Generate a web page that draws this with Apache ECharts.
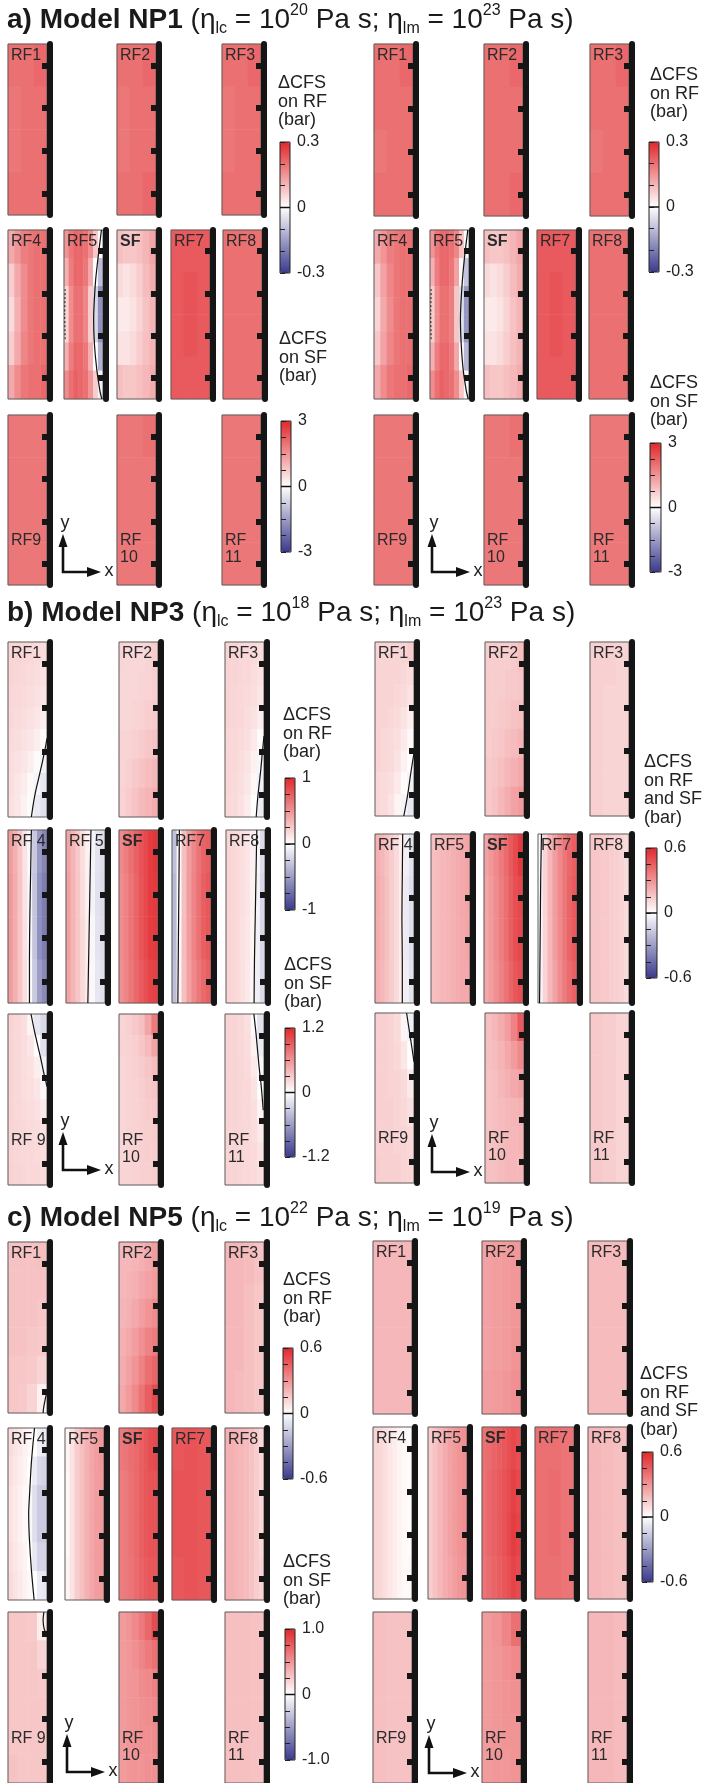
<!DOCTYPE html>
<html>
<head>
<meta charset="utf-8">
<script src="https://cdn.jsdelivr.net/npm/echarts@6/dist/echarts.min.js"></script>
<style>
  html, body { margin: 0; padding: 0; background: #ffffff; }
  #chart { width: 704px; height: 1783px; }
</style>
</head>
<body>
<div id="chart"></div>
<script>
// ---------------------------------------------------------------------------
// Coulomb failure stress change (ΔCFS) on the receiver faults (RF) and the
// source fault (SF) for three viscosity models, two time slices each.
// ---------------------------------------------------------------------------

// Strip order inside each model half: row 1, row 2, row 3
const PANELS = ['RF1', 'RF2', 'RF3', 'RF4', 'RF5', 'SF', 'RF7', 'RF8', 'RF9', 'RF10', 'RF11'];

// Along-strike coordinate of every strip (km from the top edge) and its ticks
const ALONG_MAX = 40;
const ALONG_TICKS = [5, 15, 25, 35];

// Model titles
const MODEL_TAGS = ['a)', 'b)', 'c)'];
const MODEL_NAMES = ['NP1', 'NP3', 'NP5'];
const ETA_LC_EXP = ['20', '18', '22'];
const ETA_LM_EXP = ['23', '23', '19'];

// Colour scales (bar): tick values and the three labelled values
const SCALE_NP1_RF = { max: 0.3, ticks: [-0.3, -0.2, -0.1, 0, 0.1, 0.2, 0.3], labels: ['0.3', '0', '-0.3'] };
const SCALE_NP1_SF = { max: 3, ticks: [-3, -2.25, -1.5, -0.75, 0, 0.75, 1.5, 2.25, 3], labels: ['3', '0', '-3'] };
const SCALE_NP3_RF = { max: 1, ticks: [-1, -0.75, -0.5, -0.25, 0, 0.25, 0.5, 0.75, 1], labels: ['1', '0', '-1'] };
const SCALE_NP3_SF = { max: 1.2, ticks: [-1.2, -0.9, -0.6, -0.3, 0, 0.3, 0.6, 0.9, 1.2], labels: ['1.2', '0', '-1.2'] };
const SCALE_06 = { max: 0.6, ticks: [-0.6, -0.45, -0.3, -0.15, 0, 0.15, 0.3, 0.45, 0.6], labels: ['0.6', '0', '-0.6'] };
const SCALE_NP5_SF = { max: 1, ticks: [-1, -0.75, -0.5, -0.25, 0, 0.25, 0.5, 0.75, 1], labels: ['1.0', '0', '-1.0'] };

// ΔCFS fields (bar). Each matrix: rows top -> bottom, columns west -> east.
const NP1_L = [
  [[0.2, 0.2, 0.21], [0.19, 0.2, 0.2], [0.19, 0.2, 0.2], [0.2, 0.2, 0.2]],
  [[0.2, 0.2, 0.21], [0.19, 0.2, 0.2], [0.19, 0.2, 0.2], [0.2, 0.2, 0.21]],
  [[0.2, 0.2, 0.21], [0.19, 0.2, 0.2], [0.19, 0.2, 0.2], [0.2, 0.2, 0.2]],
  [[0.12, 0.15, 0.18, 0.19, 0.2, 0.2], [0.07, 0.12, 0.16, 0.19, 0.2, 0.2], [0.05, 0.11, 0.16, 0.19, 0.2, 0.2],
   [0.07, 0.12, 0.17, 0.19, 0.2, 0.2], [0.12, 0.16, 0.19, 0.2, 0.2, 0.21]],
  [[0.15, 0.19, 0.21, 0.21, 0.2, 0.16, 0.08, 0.0], [0.11, 0.18, 0.21, 0.21, 0.19, 0.12, 0.0, -0.1],
   [0.06, 0.16, 0.2, 0.2, 0.17, 0.07, -0.06, -0.17], [0.06, 0.16, 0.2, 0.2, 0.17, 0.07, -0.06, -0.17],
   [0.11, 0.18, 0.21, 0.21, 0.19, 0.11, 0.0, -0.12], [0.16, 0.2, 0.22, 0.21, 0.2, 0.15, 0.07, -0.02]],
  [[0.9, 0.8, 0.8, 0.9, 1.05, 1.25], [0.5, 0.4, 0.5, 0.7, 0.95, 1.15], [0.3, 0.3, 0.4, 0.6, 0.85, 1.05],
   [0.4, 0.4, 0.5, 0.7, 0.9, 1.05], [0.9, 0.8, 0.8, 0.9, 1.0, 1.15]],
  [[0.23, 0.23, 0.23], [0.23, 0.24, 0.23], [0.23, 0.24, 0.23], [0.23, 0.23, 0.23]],
  [[0.2, 0.2, 0.2], [0.2, 0.2, 0.2], [0.2, 0.2, 0.2], [0.2, 0.2, 0.2]],
  [[0.19, 0.19, 0.19], [0.19, 0.19, 0.19], [0.19, 0.19, 0.19], [0.19, 0.19, 0.19]],
  [[0.19, 0.19, 0.2], [0.19, 0.19, 0.19], [0.19, 0.19, 0.19], [0.19, 0.19, 0.19]],
  [[0.19, 0.19, 0.19], [0.19, 0.19, 0.19], [0.19, 0.19, 0.19], [0.19, 0.19, 0.19]]
];
const NP1_R = [
  [[0.2, 0.2, 0.21], [0.2, 0.2, 0.2], [0.19, 0.2, 0.2], [0.2, 0.2, 0.2]],
  [[0.2, 0.2, 0.21], [0.2, 0.2, 0.2], [0.2, 0.2, 0.2], [0.2, 0.2, 0.21]],
  [[0.2, 0.2, 0.21], [0.2, 0.2, 0.2], [0.19, 0.2, 0.2], [0.2, 0.2, 0.2]],
  [[0.12, 0.15, 0.18, 0.19, 0.2, 0.2], [0.08, 0.13, 0.17, 0.19, 0.2, 0.2], [0.06, 0.12, 0.16, 0.19, 0.2, 0.2],
   [0.08, 0.13, 0.17, 0.19, 0.2, 0.2], [0.12, 0.16, 0.19, 0.2, 0.2, 0.21]],
  [[0.15, 0.19, 0.21, 0.21, 0.2, 0.17, 0.09, 0.01], [0.11, 0.18, 0.21, 0.21, 0.19, 0.13, 0.01, -0.09],
   [0.07, 0.16, 0.2, 0.2, 0.18, 0.08, -0.05, -0.16], [0.07, 0.16, 0.2, 0.2, 0.18, 0.08, -0.05, -0.16],
   [0.11, 0.18, 0.21, 0.21, 0.19, 0.12, 0.01, -0.11], [0.16, 0.2, 0.22, 0.21, 0.2, 0.16, 0.08, -0.01]],
  [[0.9, 0.8, 0.8, 0.9, 1.05, 1.25], [0.5, 0.4, 0.5, 0.7, 0.95, 1.15], [0.3, 0.3, 0.4, 0.6, 0.85, 1.05],
   [0.4, 0.4, 0.5, 0.7, 0.9, 1.05], [0.9, 0.8, 0.8, 0.9, 1.0, 1.15]],
  [[0.23, 0.23, 0.23], [0.23, 0.24, 0.23], [0.23, 0.24, 0.23], [0.23, 0.23, 0.23]],
  [[0.2, 0.2, 0.2], [0.2, 0.2, 0.2], [0.2, 0.2, 0.2], [0.2, 0.2, 0.2]],
  [[0.19, 0.19, 0.19], [0.19, 0.19, 0.19], [0.19, 0.19, 0.19], [0.19, 0.19, 0.19]],
  [[0.19, 0.19, 0.2], [0.19, 0.19, 0.19], [0.19, 0.19, 0.19], [0.19, 0.19, 0.19]],
  [[0.19, 0.19, 0.19], [0.19, 0.19, 0.19], [0.19, 0.19, 0.19], [0.19, 0.19, 0.19]]
];
const NP3_L = [
  [[0.2, 0.2, 0.19, 0.18, 0.17, 0.16], [0.2, 0.19, 0.18, 0.17, 0.16, 0.14], [0.19, 0.18, 0.17, 0.16, 0.14, 0.12],
   [0.18, 0.17, 0.16, 0.14, 0.12, 0.08], [0.17, 0.16, 0.14, 0.12, 0.08, 0.02], [0.16, 0.14, 0.12, 0.08, 0.02, -0.06],
   [0.15, 0.12, 0.09, 0.03, -0.05, -0.12], [0.14, 0.11, 0.06, -0.02, -0.1, -0.16]],
  [[0.2, 0.19, 0.19, 0.19, 0.2, 0.24], [0.19, 0.19, 0.19, 0.2, 0.21, 0.22], [0.19, 0.19, 0.2, 0.21, 0.23, 0.24],
   [0.2, 0.2, 0.22, 0.24, 0.26, 0.28], [0.2, 0.22, 0.25, 0.28, 0.31, 0.33], [0.21, 0.24, 0.28, 0.32, 0.35, 0.38]],
  [[0.2, 0.2, 0.19, 0.18, 0.17, 0.16], [0.2, 0.2, 0.19, 0.18, 0.16, 0.14], [0.2, 0.19, 0.18, 0.17, 0.15, 0.12],
   [0.2, 0.19, 0.18, 0.16, 0.13, 0.08], [0.19, 0.18, 0.17, 0.15, 0.1, 0.02], [0.19, 0.18, 0.16, 0.13, 0.07, -0.04],
   [0.19, 0.17, 0.15, 0.11, 0.04, -0.08], [0.18, 0.17, 0.14, 0.09, 0.0, -0.1]],
  [[0.46, 0.37, 0.26, 0.13, -0.03, -0.28, -0.52, -0.62], [0.48, 0.38, 0.27, 0.13, -0.04, -0.3, -0.56, -0.66],
   [0.48, 0.38, 0.27, 0.14, -0.03, -0.3, -0.56, -0.66], [0.46, 0.37, 0.27, 0.15, -0.01, -0.27, -0.5, -0.6]],
  [[0.42, 0.34, 0.25, 0.15, 0.06, -0.06, -0.14, -0.17], [0.44, 0.35, 0.26, 0.16, 0.07, -0.06, -0.15, -0.18],
   [0.44, 0.35, 0.26, 0.17, 0.08, -0.04, -0.14, -0.17], [0.42, 0.34, 0.26, 0.17, 0.09, -0.03, -0.12, -0.15]],
  [[0.66, 0.72, 0.8, 0.88, 0.96, 1.02, 1.08, 1.12], [0.64, 0.7, 0.78, 0.86, 0.95, 1.02, 1.08, 1.1],
   [0.64, 0.7, 0.78, 0.86, 0.95, 1.02, 1.08, 1.1], [0.62, 0.68, 0.76, 0.84, 0.92, 0.98, 1.04, 1.06]],
  [[-0.32, 0.04, 0.3, 0.45, 0.56, 0.65, 0.72, 0.75], [-0.35, 0.02, 0.3, 0.46, 0.57, 0.66, 0.74, 0.78],
   [-0.35, 0.03, 0.31, 0.46, 0.57, 0.66, 0.74, 0.78], [-0.33, 0.05, 0.3, 0.44, 0.55, 0.63, 0.7, 0.74]],
  [[0.2, 0.19, 0.17, 0.15, 0.12, 0.07, -0.04, -0.18], [0.2, 0.19, 0.17, 0.15, 0.12, 0.06, -0.06, -0.2],
   [0.2, 0.19, 0.17, 0.14, 0.11, 0.05, -0.07, -0.2], [0.2, 0.19, 0.17, 0.14, 0.1, 0.04, -0.08, -0.19]],
  [[0.2, 0.18, 0.15, 0.05, -0.12, -0.2], [0.2, 0.18, 0.16, 0.12, 0.0, -0.15], [0.2, 0.18, 0.16, 0.14, 0.08, -0.06],
   [0.2, 0.18, 0.16, 0.15, 0.12, 0.03], [0.2, 0.18, 0.17, 0.16, 0.14, 0.1], [0.2, 0.19, 0.18, 0.17, 0.16, 0.14],
   [0.2, 0.19, 0.18, 0.18, 0.17, 0.16], [0.21, 0.2, 0.19, 0.18, 0.18, 0.17]],
  [[0.2, 0.22, 0.25, 0.3, 0.42, 0.62], [0.2, 0.21, 0.23, 0.26, 0.32, 0.42], [0.19, 0.2, 0.22, 0.24, 0.27, 0.31],
   [0.19, 0.2, 0.21, 0.23, 0.25, 0.27], [0.19, 0.2, 0.21, 0.22, 0.24, 0.25], [0.19, 0.2, 0.21, 0.22, 0.23, 0.24],
   [0.19, 0.2, 0.21, 0.22, 0.23, 0.23], [0.2, 0.2, 0.21, 0.22, 0.22, 0.23]],
  [[0.2, 0.2, 0.18, 0.15, 0.02, -0.15], [0.2, 0.2, 0.18, 0.16, 0.06, -0.1], [0.2, 0.2, 0.19, 0.17, 0.1, -0.04],
   [0.2, 0.2, 0.19, 0.18, 0.13, 0.0], [0.2, 0.2, 0.19, 0.18, 0.15, 0.05], [0.2, 0.2, 0.19, 0.18, 0.16, 0.1],
   [0.2, 0.2, 0.19, 0.18, 0.17, 0.13], [0.2, 0.2, 0.19, 0.18, 0.17, 0.15]]
];
const NP3_R = [
  [[0.12, 0.12, 0.12, 0.12, 0.12, 0.14], [0.12, 0.12, 0.12, 0.12, 0.11, 0.1], [0.12, 0.12, 0.12, 0.11, 0.1, 0.08],
   [0.12, 0.12, 0.11, 0.1, 0.08, 0.05], [0.12, 0.11, 0.1, 0.09, 0.06, 0.02], [0.12, 0.11, 0.1, 0.08, 0.04, 0.0],
   [0.11, 0.1, 0.09, 0.06, 0.01, -0.04], [0.11, 0.1, 0.08, 0.03, -0.03, -0.07]],
  [[0.14, 0.14, 0.14, 0.14, 0.15, 0.18], [0.14, 0.14, 0.14, 0.15, 0.15, 0.16], [0.14, 0.14, 0.15, 0.16, 0.17, 0.18],
   [0.14, 0.15, 0.16, 0.18, 0.19, 0.21], [0.15, 0.16, 0.18, 0.2, 0.22, 0.24], [0.15, 0.17, 0.2, 0.23, 0.26, 0.28]],
  [[0.13, 0.13, 0.12], [0.13, 0.12, 0.12], [0.13, 0.12, 0.12], [0.13, 0.12, 0.12]],
  [[0.22, 0.2, 0.17, 0.14, 0.1, 0.05, -0.05, -0.09], [0.23, 0.21, 0.18, 0.14, 0.1, 0.05, -0.06, -0.1],
   [0.23, 0.21, 0.18, 0.14, 0.1, 0.05, -0.06, -0.1], [0.22, 0.2, 0.17, 0.14, 0.1, 0.05, -0.05, -0.09]],
  [[0.18, 0.19, 0.2, 0.21, 0.22, 0.23, 0.24, 0.25], [0.18, 0.19, 0.2, 0.21, 0.22, 0.23, 0.24, 0.25],
   [0.18, 0.19, 0.2, 0.21, 0.22, 0.23, 0.24, 0.25], [0.18, 0.19, 0.2, 0.21, 0.22, 0.23, 0.24, 0.24]],
  [[0.26, 0.29, 0.33, 0.37, 0.41, 0.46, 0.5, 0.55], [0.25, 0.28, 0.32, 0.36, 0.4, 0.45, 0.49, 0.51],
   [0.25, 0.28, 0.32, 0.36, 0.4, 0.45, 0.49, 0.51], [0.24, 0.27, 0.31, 0.35, 0.39, 0.43, 0.47, 0.49]],
  [[-0.02, 0.12, 0.2, 0.27, 0.33, 0.38, 0.42, 0.45], [-0.03, 0.12, 0.2, 0.27, 0.33, 0.38, 0.43, 0.46],
   [-0.03, 0.12, 0.2, 0.27, 0.33, 0.38, 0.43, 0.46], [-0.02, 0.12, 0.2, 0.26, 0.32, 0.37, 0.41, 0.44]],
  [[0.16, 0.16, 0.15, 0.15, 0.14, 0.13, 0.12, 0.1], [0.16, 0.16, 0.15, 0.15, 0.14, 0.13, 0.12, 0.1],
   [0.16, 0.16, 0.15, 0.15, 0.14, 0.13, 0.12, 0.1], [0.16, 0.16, 0.15, 0.15, 0.14, 0.13, 0.12, 0.1]],
  [[0.13, 0.13, 0.12, 0.1, 0.03, -0.05], [0.13, 0.13, 0.12, 0.11, 0.07, 0.0], [0.13, 0.13, 0.12, 0.12, 0.1, 0.06],
   [0.13, 0.13, 0.13, 0.12, 0.11, 0.09], [0.13, 0.13, 0.13, 0.12, 0.12, 0.11], [0.14, 0.13, 0.13, 0.13, 0.12, 0.12]],
  [[0.18, 0.2, 0.23, 0.27, 0.35, 0.46], [0.18, 0.19, 0.21, 0.24, 0.28, 0.33], [0.17, 0.18, 0.2, 0.22, 0.24, 0.26],
   [0.17, 0.18, 0.19, 0.2, 0.21, 0.22], [0.17, 0.18, 0.19, 0.2, 0.2, 0.21], [0.18, 0.18, 0.19, 0.2, 0.2, 0.2]],
  [[0.15, 0.14, 0.12], [0.15, 0.14, 0.12], [0.15, 0.14, 0.12], [0.15, 0.14, 0.12]]
];
const NP5_L = [
  [[0.17, 0.17, 0.17, 0.18], [0.17, 0.17, 0.17, 0.17], [0.17, 0.17, 0.17, 0.16], [0.17, 0.17, 0.16, 0.15],
   [0.16, 0.16, 0.15, 0.12], [0.16, 0.15, 0.12, 0.04]],
  [[0.2, 0.2, 0.21, 0.22, 0.24, 0.27], [0.2, 0.21, 0.22, 0.24, 0.26, 0.28], [0.21, 0.22, 0.24, 0.27, 0.3, 0.32],
   [0.22, 0.24, 0.27, 0.31, 0.35, 0.37], [0.23, 0.26, 0.3, 0.35, 0.4, 0.43], [0.24, 0.28, 0.33, 0.39, 0.45, 0.5]],
  [[0.2, 0.2, 0.19, 0.17], [0.2, 0.2, 0.18, 0.16], [0.2, 0.2, 0.18, 0.16], [0.2, 0.19, 0.18, 0.16]],
  [[0.1, 0.08, 0.06, 0.04, 0.02, 0.0, -0.05, -0.06], [0.09, 0.07, 0.05, 0.03, 0.0, -0.06, -0.12, -0.13],
   [0.08, 0.06, 0.04, 0.02, -0.02, -0.1, -0.16, -0.16], [0.08, 0.06, 0.04, 0.02, -0.02, -0.1, -0.16, -0.16],
   [0.09, 0.07, 0.05, 0.03, 0.0, -0.07, -0.13, -0.13], [0.1, 0.08, 0.06, 0.04, 0.02, 0.0, -0.06, -0.07]],
  [[0.03, 0.08, 0.14, 0.18, 0.22, 0.25, 0.27, 0.29], [0.02, 0.08, 0.14, 0.18, 0.22, 0.25, 0.27, 0.28],
   [0.02, 0.08, 0.14, 0.18, 0.22, 0.25, 0.27, 0.28], [0.03, 0.08, 0.14, 0.18, 0.22, 0.25, 0.27, 0.28]],
  [[0.62, 0.64, 0.67, 0.7, 0.74, 0.78, 0.82, 0.84], [0.6, 0.62, 0.66, 0.7, 0.74, 0.78, 0.8, 0.8],
   [0.6, 0.62, 0.66, 0.7, 0.74, 0.78, 0.8, 0.8], [0.6, 0.62, 0.65, 0.69, 0.73, 0.76, 0.78, 0.78]],
  [[0.47, 0.48, 0.47], [0.48, 0.48, 0.47], [0.48, 0.48, 0.47], [0.47, 0.48, 0.47]],
  [[0.22, 0.22, 0.21, 0.2, 0.19, 0.17, 0.14, 0.11], [0.22, 0.22, 0.21, 0.2, 0.19, 0.17, 0.14, 0.11],
   [0.22, 0.22, 0.21, 0.2, 0.19, 0.17, 0.14, 0.11], [0.22, 0.22, 0.21, 0.2, 0.19, 0.17, 0.14, 0.12]],
  [[0.16, 0.16, 0.15, 0.05], [0.16, 0.16, 0.16, 0.12], [0.16, 0.16, 0.16, 0.15], [0.16, 0.16, 0.16, 0.16],
   [0.16, 0.16, 0.16, 0.16], [0.17, 0.16, 0.16, 0.16]],
  [[0.28, 0.3, 0.33, 0.37, 0.42, 0.5], [0.28, 0.29, 0.31, 0.34, 0.37, 0.4], [0.28, 0.29, 0.3, 0.32, 0.33, 0.35],
   [0.28, 0.29, 0.3, 0.31, 0.32, 0.33], [0.28, 0.29, 0.3, 0.31, 0.31, 0.32], [0.28, 0.29, 0.3, 0.3, 0.31, 0.31]],
  [[0.18, 0.18, 0.17], [0.18, 0.18, 0.17], [0.18, 0.18, 0.17], [0.18, 0.18, 0.17]]
];
const NP5_R = [
  [[0.2, 0.2, 0.2], [0.2, 0.2, 0.2], [0.2, 0.2, 0.2], [0.2, 0.2, 0.2]],
  [[0.26, 0.27, 0.28, 0.29], [0.26, 0.27, 0.28, 0.29], [0.26, 0.27, 0.28, 0.3], [0.27, 0.28, 0.29, 0.31]],
  [[0.19, 0.19, 0.19], [0.19, 0.19, 0.19], [0.19, 0.19, 0.19], [0.19, 0.19, 0.19]],
  [[0.12, 0.11, 0.09, 0.07, 0.05, 0.03, 0.02, 0.01], [0.12, 0.11, 0.09, 0.07, 0.05, 0.03, 0.02, 0.01],
   [0.12, 0.11, 0.09, 0.07, 0.05, 0.03, 0.02, 0.01], [0.12, 0.11, 0.09, 0.07, 0.05, 0.03, 0.02, 0.02]],
  [[0.14, 0.17, 0.2, 0.23, 0.26, 0.28, 0.3, 0.31], [0.14, 0.17, 0.2, 0.23, 0.26, 0.28, 0.3, 0.31],
   [0.14, 0.17, 0.2, 0.23, 0.26, 0.28, 0.3, 0.31], [0.14, 0.17, 0.2, 0.23, 0.25, 0.27, 0.29, 0.3]],
  [[0.4, 0.41, 0.43, 0.45, 0.47, 0.49, 0.51, 0.49], [0.4, 0.42, 0.44, 0.46, 0.48, 0.5, 0.53, 0.51],
   [0.4, 0.42, 0.44, 0.46, 0.48, 0.51, 0.54, 0.52], [0.39, 0.41, 0.43, 0.45, 0.47, 0.49, 0.52, 0.5]],
  [[0.4, 0.4, 0.39], [0.4, 0.41, 0.39], [0.4, 0.41, 0.39], [0.4, 0.4, 0.39]],
  [[0.2, 0.19, 0.18], [0.2, 0.19, 0.18], [0.2, 0.19, 0.18], [0.2, 0.19, 0.18]],
  [[0.18, 0.17, 0.17], [0.18, 0.17, 0.17], [0.18, 0.17, 0.17], [0.18, 0.17, 0.17]],
  [[0.28, 0.3, 0.34, 0.4], [0.28, 0.29, 0.31, 0.33], [0.28, 0.29, 0.3, 0.31], [0.28, 0.29, 0.3, 0.3], [0.28, 0.29, 0.29, 0.3]],
  [[0.2, 0.2, 0.19], [0.2, 0.2, 0.19], [0.2, 0.2, 0.19], [0.2, 0.2, 0.19]]
];

// Zero-ΔCFS contours: polylines of [across-strike fraction, km from top]
const NP1_L_ZERO = [[], [], [], [],
  [[[0.96, 0], [0.88, 6], [0.81, 12], [0.77, 18], [0.76, 21], [0.78, 27], [0.84, 33], [0.92, 38], [0.97, 40]]],
  [], [], [], [], [], []];
const NP1_R_ZERO = [[], [], [], [],
  [[[0.97, 0], [0.89, 6], [0.83, 12], [0.79, 18], [0.78, 21], [0.8, 27], [0.85, 33], [0.93, 38], [0.98, 40]]],
  [], [], [], [], [], []];
const NP3_L_ZERO = [
  [[[1.0, 22], [0.95, 24.5], [0.88, 27.5], [0.79, 31], [0.7, 34.5], [0.64, 37.5], [0.6, 40]]],
  [],
  [[[1.0, 21.5], [0.96, 25], [0.92, 29], [0.87, 33], [0.83, 36.5], [0.8, 40]]],
  [[[0.6, 0], [0.58, 10], [0.56, 20], [0.55, 30], [0.55, 40]]],
  [[[0.64, 0], [0.62, 10], [0.6, 20], [0.58, 30], [0.56, 40]]],
  [],
  [[[0.19, 0], [0.18, 10], [0.17, 20], [0.16, 30], [0.15, 40]]],
  [[[0.79, 0], [0.77, 10], [0.75, 20], [0.73, 30], [0.72, 40]]],
  [[[0.59, 0], [0.69, 4.5], [0.83, 10], [0.91, 13.5], [0.98, 16.2], [1.0, 17]]],
  [],
  [[[0.74, 0], [0.8, 5], [0.87, 12], [0.93, 17], [0.98, 22.5]]]
];
const NP3_R_ZERO = [
  [[[1.0, 25.5], [0.92, 30], [0.84, 35], [0.74, 40]]],
  [], [],
  [[[0.71, 0], [0.7, 10], [0.69, 20], [0.7, 30], [0.7, 40]]],
  [], [],
  [[[0.09, 0], [0.07, 10], [0.06, 20], [0.05, 30], [0.04, 40]]],
  [],
  [[[0.81, 0], [0.86, 3], [0.91, 6], [0.96, 9], [1.0, 11.5]]],
  [], []
];
const NP5_L_ZERO = [
  [[[1.0, 35], [0.95, 37], [0.91, 39], [0.9, 40]]],
  [], [],
  [[[0.68, 0], [0.6, 8], [0.55, 16], [0.53, 20], [0.55, 26], [0.6, 33], [0.67, 40]]],
  [], [], [], [],
  [[[0.92, 0], [0.9, 2], [0.93, 4], [1.0, 5.5]]],
  [], []
];
const NP5_R_ZERO = [[], [], [], [], [], [], [], [], [], [], []];
// Short broken zero contour along the western edge of RF5 (model NP1)
const NP1_RF5_EDGE = [[0.03, 14], [0.02, 20], [0.03, 26]];

// Strip captions per half
const NAMES_NP1 = ['RF1', 'RF2', 'RF3', 'RF4', 'RF5', 'SF', 'RF7', 'RF8', 'RF9', 'RF\n10', 'RF\n11'];
const NAMES_NP3_L = ['RF1', 'RF2', 'RF3', 'RF 4', 'RF 5', 'SF', 'RF7', 'RF8', 'RF 9', 'RF\n10', 'RF\n11'];
const NAMES_NP3_R = ['RF1', 'RF2', 'RF3', 'RF 4', 'RF5', 'SF', 'RF7', 'RF8', 'RF9', 'RF\n10', 'RF\n11'];
const NAMES_NP5_L = ['RF1', 'RF2', 'RF3', 'RF 4', 'RF5', 'SF', 'RF7', 'RF8', 'RF 9', 'RF\n10', 'RF\n11'];
const NAMES_NP5_R = ['RF1', 'RF2', 'RF3', 'RF4', 'RF5', 'SF', 'RF7', 'RF8', 'RF9', 'RF\n10', 'RF\n11'];

const CAP_RF = ['ΔCFS', 'on RF', '(bar)'];
const CAP_SF = ['ΔCFS', 'on SF', '(bar)'];
const CAP_ALL = ['ΔCFS', 'on RF', 'and SF', '(bar)'];

// ---------------------------------------------------------------------------
// Layout (pixels)
// ---------------------------------------------------------------------------
const FONT = '"Liberation Sans", Arial, Helvetica, sans-serif';
const CMAP = ['#3b3a8d', '#ffffff', '#e1282c'];
const FIELD_W = 39;            // visible field width of a strip; the black bar adds 6 px

const TITLE_POS = [[7, 3], [7, 596], [7, 1201]];

const HALVES = [
  { fields: NP1_L, zero: NP1_L_ZERO, names: NAMES_NP1, scales: [SCALE_NP1_RF, SCALE_NP1_SF], caps: [CAP_RF, CAP_SF],
    rows: [[44, 215], [230, 399], [415, 585]], xs3: [8, 117, 222], xs5: [8, 64, 117, 171, 223], arrow: [63, 572],
    bars: [[280, 142, 10, 131], [281, 421, 10, 131]], capAt: [[278, 74], [279, 330]], edge: true },
  { fields: NP1_R, zero: NP1_R_ZERO, names: NAMES_NP1, scales: [SCALE_NP1_RF, SCALE_NP1_SF], caps: [CAP_RF, CAP_SF],
    rows: [[44, 216], [230, 399], [415, 585]], xs3: [374, 484, 590], xs5: [374, 430, 484, 537, 589], arrow: [432, 572],
    bars: [[649, 142, 10, 130], [650, 443, 11, 129]], capAt: [[650, 66], [650, 374]], edge: true },
  { fields: NP3_L, zero: NP3_L_ZERO, names: NAMES_NP3_L, scales: [SCALE_NP3_RF, SCALE_NP3_SF], caps: [CAP_RF, CAP_SF],
    rows: [[642, 817], [830, 1003], [1014, 1185]], xs3: [8, 119, 225], xs5: [8, 66, 119, 172, 226], arrow: [63, 1170],
    bars: [[285, 778, 10, 132], [285, 1028, 10, 129]], capAt: [[283, 706], [284, 956]] },
  { fields: NP3_R, zero: NP3_R_ZERO, names: NAMES_NP3_R, scales: [SCALE_06], caps: [CAP_ALL],
    rows: [[642, 816], [834, 1003], [1013, 1183]], xs3: [375, 485, 590], xs5: [375, 431, 484, 538, 590], arrow: [432, 1172],
    bars: [[646, 848, 11, 130]], capAt: [[644, 753]] },
  { fields: NP5_L, zero: NP5_L_ZERO, names: NAMES_NP5_L, scales: [SCALE_06, SCALE_NP5_SF], caps: [CAP_RF, CAP_SF],
    rows: [[1242, 1413], [1428, 1600], [1612, 1783]], xs3: [8, 119, 225], xs5: [8, 65, 119, 172, 225], arrow: [67, 1772],
    bars: [[283, 1348, 10, 131], [285, 1629, 10, 131]], capAt: [[283, 1271], [283, 1553]] },
  { fields: NP5_R, zero: NP5_R_ZERO, names: NAMES_NP5_R, scales: [SCALE_06], caps: [CAP_ALL],
    rows: [[1241, 1414], [1427, 1599], [1612, 1783]], xs3: [373, 482, 588], xs5: [373, 428, 482, 535, 588], arrow: [429, 1773],
    bars: [[642, 1452, 11, 130]], capAt: [[640, 1365]] }
];

// ---------------------------------------------------------------------------
// Option building
// ---------------------------------------------------------------------------
const grid = [], xAxis = [], yAxis = [], series = [], visualMap = [], graphic = [];
const seq = n => Array.from({ length: n }, (_, i) => i);

function stripRect(half, k) {
  let row, x;
  if (k < 3) { row = half.rows[0]; x = half.xs3[k]; }
  else if (k < 8) { row = half.rows[1]; x = half.xs5[k - 3]; }
  else { row = half.rows[2]; x = half.xs3[k - 8]; }
  return { x, y: row[0], w: FIELD_W, h: row[1] - row[0] };
}

function addStrip(rect, field, zeroLines, dashedLine, slot) {
  const g = grid.length;
  grid.push({ left: rect.x, top: rect.y, width: rect.w, height: rect.h, show: true,
    borderColor: '#5e5e5e', borderWidth: 1, backgroundColor: 'transparent', z: 3 });
  const nx = field[0].length, ny = field.length;
  const xc = xAxis.length;
  xAxis.push({ type: 'category', gridIndex: g, data: seq(nx), show: false });
  const xv = xAxis.length;
  xAxis.push({ type: 'value', gridIndex: g, min: 0, max: 1, show: false, position: 'top' });
  const yc = yAxis.length;
  yAxis.push({ type: 'category', gridIndex: g, data: seq(ny), inverse: true, show: false, position: 'left' });
  const yv = yAxis.length;
  yAxis.push({
    type: 'value', gridIndex: g, min: 0, max: ALONG_MAX, inverse: true, position: 'right', offset: 3, z: 6,
    axisLine: { show: true, lineStyle: { color: '#151515', width: 6 } },
    axisTick: { show: true, inside: true, length: 8, customValues: ALONG_TICKS, lineStyle: { color: '#151515', width: 6 } },
    axisLabel: { show: false }, splitLine: { show: false }
  });
  const data = [];
  field.forEach((row, r) => row.forEach((v, c) => data.push([c, r, v])));
  slot.push(series.length);
  series.push({ type: 'heatmap', xAxisIndex: xc, yAxisIndex: yc, data, silent: true,
    emphasis: { disabled: true }, progressive: 0, itemStyle: { borderWidth: 0 } });
  zeroLines.forEach(pts => series.push({
    type: 'line', xAxisIndex: xv, yAxisIndex: yv, data: pts, smooth: 0.3, showSymbol: false, silent: true,
    lineStyle: { color: '#111', width: 1.2 }, z: 4
  }));
  if (dashedLine) series.push({
    type: 'line', xAxisIndex: xv, yAxisIndex: yv, data: dashedLine, smooth: 0.3, showSymbol: false, silent: true,
    lineStyle: { color: '#111', width: 1, type: [2, 2] }, z: 4
  });
}

function addColorbar(box, scale, slot, caption, capAt) {
  const g = grid.length;
  grid.push({ left: box[0], top: box[1], width: box[2], height: box[3], show: true,
    borderColor: '#222', borderWidth: 1, backgroundColor: 'transparent', z: 5 });
  const xi = xAxis.length;
  xAxis.push({ type: 'value', gridIndex: g, min: 0, max: 1, show: false });
  const yi = yAxis.length;
  const labelled = [scale.max, 0, -scale.max];
  yAxis.push({
    type: 'value', gridIndex: g, min: -scale.max, max: scale.max, position: 'right', z: 6,
    axisLine: { show: false },
    axisTick: { show: true, customValues: scale.ticks, length: 5, lineStyle: { color: '#222', width: 1 } },
    axisLabel: {
      show: true, customValues: labelled, margin: 7, fontSize: 16, color: '#222', fontFamily: FONT,
      formatter: v => {
        let best = 0;
        labelled.forEach((t, i) => { if (Math.abs(t - v) < Math.abs(labelled[best] - v)) best = i; });
        return scale.labels[best];
      }
    },
    splitLine: { show: false }
  });
  series.push({ type: 'line', xAxisIndex: xi, yAxisIndex: yi, data: [[0, 0], [1, 0]], showSymbol: false,
    silent: true, lineStyle: { color: '#111', width: 1.5 }, z: 7 });
  visualMap.push({
    type: 'continuous', min: -scale.max, max: scale.max, seriesIndex: slot, inRange: { color: CMAP },
    calculable: false, hoverLink: false, show: true, left: box[0], top: box[1], itemWidth: box[2], itemHeight: box[3],
    padding: 0, text: null, showLabel: false, z: 4
  });
  graphic.push({ type: 'text', x: capAt[0], y: capAt[1], z: 20, silent: true,
    style: { text: caption.join('\n'), fontSize: 18, lineHeight: 18.5, fontFamily: FONT, fill: '#222', align: 'left', verticalAlign: 'top' } });
}

function addArrows(corner) {
  const [cx, cy] = corner;
  graphic.push({ type: 'polyline', z: 20, silent: true, shape: { points: [[cx, cy - 28], [cx, cy], [cx + 26, cy]] },
    style: { stroke: '#111', lineWidth: 2.6, fill: null } });
  graphic.push({ type: 'polygon', z: 20, silent: true, shape: { points: [[cx, cy - 38], [cx - 4.5, cy - 25], [cx + 4.5, cy - 25]] },
    style: { fill: '#111' } });
  graphic.push({ type: 'polygon', z: 20, silent: true, shape: { points: [[cx + 38, cy], [cx + 24, cy - 5], [cx + 24, cy + 5]] },
    style: { fill: '#111' } });
  graphic.push({ type: 'text', x: cx + 2, y: cy - 49, z: 20, silent: true,
    style: { text: 'y', fontSize: 18, fontFamily: FONT, fill: '#222', align: 'center', verticalAlign: 'middle' } });
  graphic.push({ type: 'text', x: cx + 46, y: cy - 1, z: 20, silent: true,
    style: { text: 'x', fontSize: 18, fontFamily: FONT, fill: '#222', align: 'center', verticalAlign: 'middle' } });
}

HALVES.forEach(half => {
  const slots = half.scales.map(() => []);
  PANELS.forEach((p, k) => {
    const rect = stripRect(half, k);
    const slot = (p === 'SF' && slots.length > 1) ? slots[1] : slots[0];
    addStrip(rect, half.fields[k], half.zero[k], (half.edge && p === 'RF5') ? NP1_RF5_EDGE : null, slot);
    const name = half.names[k];
    const bottomRow = k >= 8;
    graphic.push({ type: 'text', z: 20, silent: true,
      x: rect.x + 3, y: bottomRow ? rect.y + rect.h - 53 : rect.y + 3,
      style: { text: name, fontSize: 16, lineHeight: 17, fontFamily: FONT, fill: '#2a2a2a',
        fontWeight: p === 'SF' ? 'bold' : 'normal', align: 'left', verticalAlign: 'top' } });
  });
  half.scales.forEach((sc, i) => addColorbar(half.bars[i], sc, slots[i], half.caps[i], half.capAt[i]));
  addArrows(half.arrow);
});

// Model titles with sub- and superscripts
MODEL_NAMES.forEach((m, i) => {
  graphic.push({ type: 'text', x: TITLE_POS[i][0], y: TITLE_POS[i][1], z: 20, silent: true,
    style: {
      text: '{b|' + MODEL_TAGS[i] + ' Model ' + m + ' }{r|(η}{sub|lc}{r| = 10}{sup|' + ETA_LC_EXP[i] +
            '}{r| Pa s; η}{sub|lm}{r| = 10}{sup|' + ETA_LM_EXP[i] + '}{r| Pa s)}',
      fill: '#1a1a1a', align: 'left', verticalAlign: 'top',
      rich: {
        b: { fontSize: 28, fontWeight: 'bold', fontFamily: FONT, lineHeight: 34, fill: '#1a1a1a' },
        r: { fontSize: 28, fontFamily: FONT, lineHeight: 34, fill: '#1a1a1a' },
        sup: { fontSize: 16, fontFamily: FONT, lineHeight: 22, verticalAlign: 'top', fill: '#1a1a1a' },
        sub: { fontSize: 16, fontFamily: FONT, lineHeight: 19, verticalAlign: 'bottom', fill: '#1a1a1a' }
      }
    } });
});

const chart = echarts.init(document.getElementById('chart'), null, { renderer: 'canvas' });
chart.setOption({
  backgroundColor: '#ffffff',
  animation: false,
  grid, xAxis, yAxis, series, visualMap, graphic
});
</script>
</body>
</html>
